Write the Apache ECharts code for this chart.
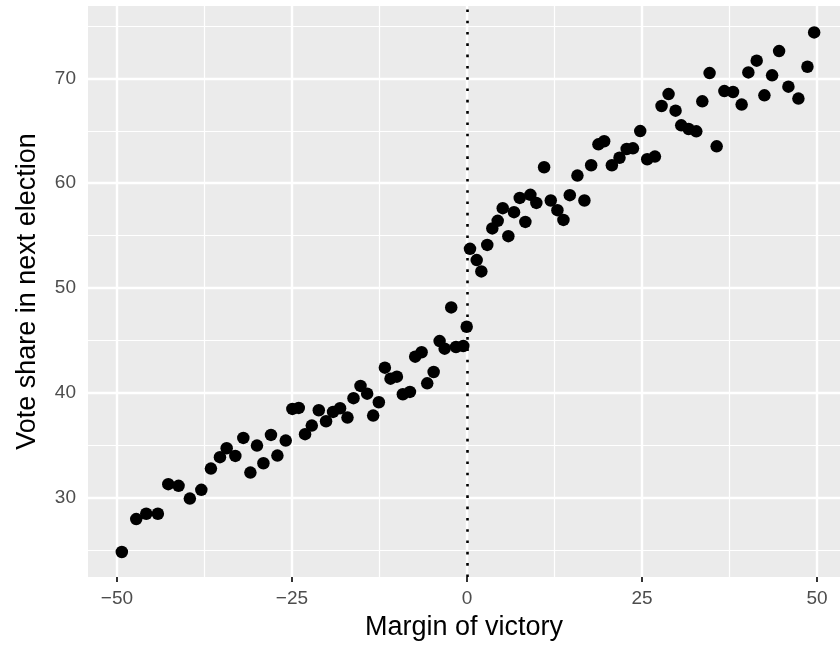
<!DOCTYPE html>
<html>
<head>
<meta charset="utf-8">
<script src="https://cdn.jsdelivr.net/npm/echarts@6/dist/echarts.min.js"></script>
<style>
  html, body { margin: 0; padding: 0; background: #fff; }
  #chart { width: 840px; height: 649px; }
</style>
</head>
<body>
<div id="chart"></div>
<script>
// margin of victory (x) and vote share in next election (y)
const margin = [
  -49.31, -47.25, -45.82, -44.16, -42.67, -41.20, -39.59, -37.95, -36.58, -35.29,
  -34.33, -33.09, -31.95, -30.94, -30.00, -29.08, -28.00, -27.08, -25.89, -24.94,
  -24.03, -23.13, -22.17, -21.17, -20.13, -19.13, -18.13, -17.07, -16.21, -15.21,
  -14.26, -13.40, -12.59, -11.73, -10.92, -10.01, -9.16, -8.15, -7.40, -6.48,
  -5.68, -4.76, -3.91, -3.19, -2.25, -1.57, -0.53, -0.04, 0.43, 1.39,
  2.05, 2.90, 3.62, 4.39, 5.11, 5.91, 6.72, 7.54, 8.34, 9.06,
  9.91, 11.02, 11.97, 12.92, 13.78, 14.69, 15.78, 16.78, 17.74, 18.78,
  19.60, 20.70, 21.79, 22.82, 23.71, 24.75, 25.75, 26.85, 27.80, 28.80,
  29.80, 30.61, 31.66, 32.76, 33.62, 34.66, 35.67, 36.77, 38.01, 39.24,
  40.20, 41.39, 42.49, 43.59, 44.59, 45.92, 47.35, 48.64, 49.60
];
const voteShare = [
  24.83, 27.97, 28.48, 28.48, 31.30, 31.14, 29.93, 30.76, 32.79, 33.88,
  34.73, 34.00, 35.71, 32.41, 34.98, 33.30, 36.00, 34.03, 35.46, 38.48,
  38.57, 36.07, 36.89, 38.35, 37.30, 38.19, 38.54, 37.65, 39.50, 40.67,
  39.93, 37.84, 39.11, 42.41, 41.36, 41.55, 39.88, 40.10, 43.46, 43.88,
  40.92, 42.00, 44.95, 44.22, 48.16, 44.38, 44.48, 46.31, 53.74, 52.67,
  51.59, 54.12, 55.69, 56.41, 57.62, 54.95, 57.24, 58.60, 56.31, 58.89,
  58.12, 61.52, 58.35, 57.43, 56.50, 58.86, 60.73, 58.35, 61.71, 63.71,
  64.00, 61.71, 62.43, 63.26, 63.33, 64.97, 62.29, 62.54, 67.36, 68.50,
  66.92, 65.52, 65.17, 64.95, 67.81, 70.50, 63.52, 68.79, 68.70, 67.50,
  70.57, 71.69, 68.38, 70.29, 72.60, 69.21, 68.07, 71.11, 74.38
];

const xBreaks = [-50, -25, 0, 25, 50];
const xMinorBreaks = [-37.5, -12.5, 12.5, 37.5];
const yBreaks = [30, 40, 50, 60, 70];
const yMinorBreaks = [25, 35, 45, 55, 65, 75];
const cutoff = [0];

const points = margin.map((m, i) => [m, voteShare[i]]);

const chart = echarts.init(document.getElementById('chart'), null, { renderer: 'canvas' });

const tickText = (v) => String(v).replace('-', '\u2212');

// ggplot-like grid lines, drawn as markLines so they go through the axis scales
const gridLines = (vals, key, width) => vals.map((v) => ({
  [key]: v,
  lineStyle: { color: '#FFFFFF', width: width, type: 'solid' }
}));

const option = {
  animation: false,
  backgroundColor: '#FFFFFF',
  textStyle: { fontFamily: 'Liberation Sans, Arial, sans-serif' },
  grid: {
    left: 88,
    right: 0,
    top: 6,
    bottom: 72,
    outerBoundsMode: 'none',
    show: true,
    backgroundColor: '#EBEBEB',
    borderWidth: 0
  },
  xAxis: {
    type: 'value',
    min: -54.14,
    max: 53.29,
    name: 'Margin of victory',
    nameLocation: 'middle',
    nameGap: 37,
    nameTextStyle: { color: '#000000', fontSize: 27 },
    axisLine: { show: false },
    splitLine: { show: false },
    axisTick: {
      show: true,
      length: 5,
      customValues: xBreaks,
      lineStyle: { color: '#333333', width: 2 }
    },
    axisLabel: {
      customValues: xBreaks,
      color: '#4D4D4D',
      fontSize: 19,
      margin: 12,
      formatter: tickText
    }
  },
  yAxis: {
    type: 'value',
    min: 22.45,
    max: 76.9,
    name: 'Vote share in next election',
    nameLocation: 'middle',
    nameGap: 47,
    nameTextStyle: { color: '#000000', fontSize: 27 },
    axisLine: { show: false },
    splitLine: { show: false },
    axisTick: {
      show: true,
      length: 5,
      customValues: yBreaks,
      lineStyle: { color: '#333333', width: 2 }
    },
    axisLabel: {
      customValues: yBreaks,
      color: '#4D4D4D',
      fontSize: 19,
      margin: 12
    }
  },
  series: [
    {
      // panel grid
      type: 'scatter',
      data: [],
      silent: true,
      z: 1,
      markLine: {
        silent: true,
        z: 1,
        symbol: 'none',
        label: { show: false },
        animation: false,
        data: []
          .concat(gridLines(xMinorBreaks, 'xAxis', 1.2))
          .concat(gridLines(yMinorBreaks, 'yAxis', 1.2))
          .concat(gridLines(xBreaks, 'xAxis', 2.4))
          .concat(gridLines(yBreaks, 'yAxis', 2.4))
      }
    },
    {
      // dotted cutoff line
      type: 'scatter',
      data: [],
      silent: true,
      z: 2,
      markLine: {
        silent: true,
        z: 2,
        symbol: 'none',
        label: { show: false },
        animation: false,
        data: cutoff.map((v) => ({
          xAxis: v,
          lineStyle: { color: '#000000', width: 2.6, type: [2.6, 8.7] }
        }))
      }
    },
    {
      type: 'scatter',
      data: points,
      symbol: 'circle',
      symbolSize: 12.5,
      itemStyle: { color: '#000000', opacity: 1 },
      z: 3
    }
  ]
};

chart.setOption(option);
</script>
</body>
</html>
